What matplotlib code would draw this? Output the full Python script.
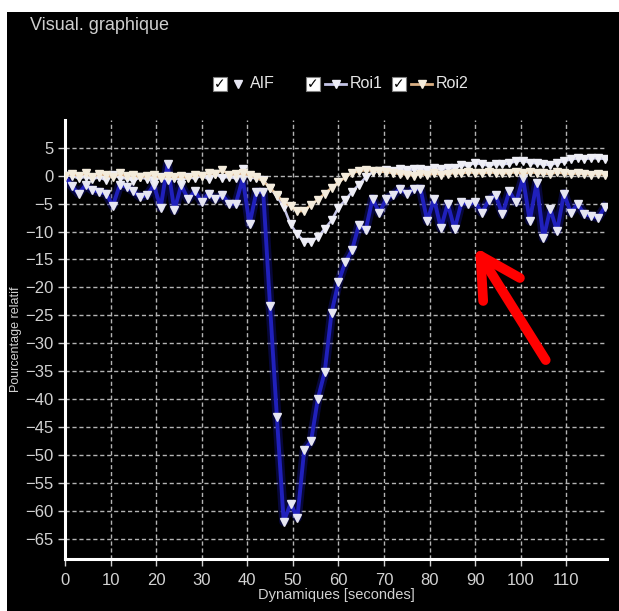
import numpy as np
import matplotlib
matplotlib.use('Agg')
import matplotlib.pyplot as plt
from matplotlib.lines import Line2D
from matplotlib.patches import Rectangle

plt.rcParams['font.family'] = ['Liberation Sans', 'DejaVu Sans']

# time step between dynamics (seconds)
dt = 1.5
n_pts = 80

aif = [0.0, -1.9, -3.2, -1.7, -2.6, -2.9, -3.2, -5.4, -1.7, -2.0,
       -2.8, -3.8, -3.5, -1.7, -5.7, 2.0, -6.2, -1.7, -4.2, -2.8,
       -4.7, -3.2, -4.2, -3.4, -5.0, -5.0, -0.5, -8.7, -2.9, -2.9,
       -23.3, -43.2, -61.9, -58.7, -61.2, -49.1, -47.5, -39.9, -35.1, -24.5,
       -19.1, -15.5, -13.3, -8.8, -9.7, -4.1, -6.7, -4.1, -3.5, -2.3,
       -3.2, -2.4, -2.3, -8.1, -4.2, -9.4, -5.0, -9.6, -4.8, -5.1,
       -4.8, -6.6, -4.4, -3.5, -6.9, -2.8, -4.8, -0.4, -8.1, -1.3,
       -11.2, -6.0, -9.9, -3.2, -6.6, -5.1, -6.9, -7.2, -7.5, -5.6]

roi1 = [0.0, 0.0, -0.5, -0.2, -0.6, -0.3, -0.8, 0.2, -0.4, -0.5,
        -0.9, -0.3, -0.6, -1.0, -0.2, -0.7, -0.4, -0.9, -0.3, -0.5,
        0.0, -0.6, 0.3, -0.4, -0.2, -0.5, 1.2, -0.3, -0.5, -0.8,
        -2.2, -3.7, -5.6, -8.7, -10.5, -11.8, -11.8, -11.0, -9.5, -8.0,
        -5.7, -4.4, -2.9, -1.6, -0.3, 0.6, 0.8, 1.0, 0.9, 1.2,
        1.0, 1.1, 1.2, 1.0, 1.3, 1.1, 1.4, 1.3, 1.9, 1.8,
        2.3, 2.0, 1.8, 2.1, 2.0, 2.2, 2.6, 2.7, 2.3, 2.2,
        2.0, 1.9, 2.3, 2.6, 2.9, 3.1, 3.0, 3.1, 3.1, 3.0]

roi2 = [0.0, 0.3, 0.0, 0.4, -0.2, 0.3, 0.1, -0.3, 0.4, -0.1,
        0.2, -0.3, 0.0, 0.2, -0.4, 0.0, -0.3, -0.1, -0.4, 0.2,
        0.0, 0.5, 0.3, 1.0, 0.2, 0.3, 0.4, 0.1, -0.3, -1.0,
        -2.2, -3.4, -4.8, -5.4, -6.4, -6.3, -5.2, -4.3, -3.2, -2.2,
        -1.2, -0.3, 0.5, 0.8, 1.0, 0.9, 0.8, 0.6, 0.5, 0.3,
        0.2, 0.0, 0.3, 0.1, 0.4, 0.2, 0.3, 0.5, 0.4, 0.6,
        0.5, 0.4, 0.6, 0.5, 0.4, 0.5, 0.6, 0.4, 0.6, 0.5,
        0.4, 0.3, 0.6, 0.4, 0.3, 0.4, 0.3, 0.2, 0.3, 0.2]

t = np.arange(n_pts) * dt

x_ticks = list(range(0, 120, 10))
y_ticks = list(range(5, -70, -5))

fig = plt.figure(figsize=(6.19, 6.11), dpi=100, facecolor='white')
# black panel behind everything
fig.patches.append(Rectangle((7 / 619, 0), 1, 1 - 12 / 611, transform=fig.transFigure,
                             facecolor='black', edgecolor='none', zorder=-10))

ax = fig.add_axes([0.105, 0.085, 0.876, 0.719])
ax.set_facecolor('black')

# AIF with a soft glow
ax.plot(t, aif, color='#1616a8', lw=6.5, alpha=0.35, zorder=2)
ax.plot(t, aif, color='#2020bc', lw=2.8, marker='v', ms=6,
        mfc='#e6e6f2', mec='#e6e6f2', zorder=3)
ax.plot(t, roi1, color='#c4c4e6', lw=1.8, marker='v', ms=6,
        mfc='#eeeef6', mec='#eeeef6', zorder=4)
ax.plot(t, roi2, color='#dab084', lw=1.8, marker='v', ms=6,
        mfc='#f4ecdc', mec='#f4ecdc', zorder=5)

ax.set_xlim(0, 119)
ax.set_ylim(-68.6, 10)
ax.set_xticks(x_ticks)
ax.set_yticks(y_ticks)
ax.grid(True, color='#b4b4b4', ls=(0, (3, 2)), lw=1.0)
ax.set_axisbelow(True)
for s in ['top', 'right']:
    ax.spines[s].set_visible(False)
for s in ['left', 'bottom']:
    ax.spines[s].set_color('white')
    ax.spines[s].set_linewidth(2.2)
ax.tick_params(colors='#d2d2d2', labelsize=12, length=5, width=1)
ax.tick_params(axis='x', pad=5)
ax.set_xlabel('Dynamiques [secondes]', color='#d2d2d2', fontsize=10.5, labelpad=0)
ax.set_ylabel('Pourcentage relatif', color='#d2d2d2', fontsize=9, labelpad=2)

# title
fig.text(30 / 619, 1 - 25 / 611, 'Visual. graphique', color='#cfcfcf', fontsize=13, va='center')

# legend with check boxes
legend_y = 1 - 84 / 611
items = [('AIF', '#2020bc', '#e6e6f2', 213, False),
         ('Roi1', '#c4c4e6', '#eeeef6', 306, True),
         ('Roi2', '#dab084', '#f4ecdc', 392, True)]
for label, lc, mc, px, show_line in items:
    fig.patches.append(Rectangle((px / 619, legend_y - 7 / 611), 14 / 619, 14 / 611,
                                 transform=fig.transFigure, facecolor='white',
                                 edgecolor='#808080', lw=0.8, zorder=5))
    fig.text((px + 7) / 619, legend_y, '\u2713', color='black', fontsize=10,
             ha='center', va='center', family='DejaVu Sans', weight='bold', zorder=6)
    if show_line:
        x0 = (px + 19) / 619
        x1 = (px + 40) / 619
        fig.add_artist(Line2D([x0, x1], [legend_y, legend_y], color=lc, lw=2,
                              transform=fig.transFigure))
        xm = (x0 + x1) / 2
        lx = (px + 44) / 619
    else:
        xm = (px + 25) / 619
        lx = (px + 37) / 619
    fig.add_artist(Line2D([xm], [legend_y], color=lc, marker='v', ms=5.5,
                          mfc=mc, mec=mc, transform=fig.transFigure))
    fig.text(lx, legend_y, label, color='#e6e6e6', fontsize=11.5, va='center')

# red annotation arrow
ax.annotate('', xy=(90, -12.8), xytext=(105.5, -33),
            arrowprops=dict(arrowstyle='->,head_length=1.1,head_width=0.6',
                            color='#ff0000', lw=7, mutation_scale=26,
                            shrinkA=0, shrinkB=0),
            annotation_clip=False, zorder=10)

fig.savefig('out.png', dpi=100, facecolor=fig.get_facecolor())
